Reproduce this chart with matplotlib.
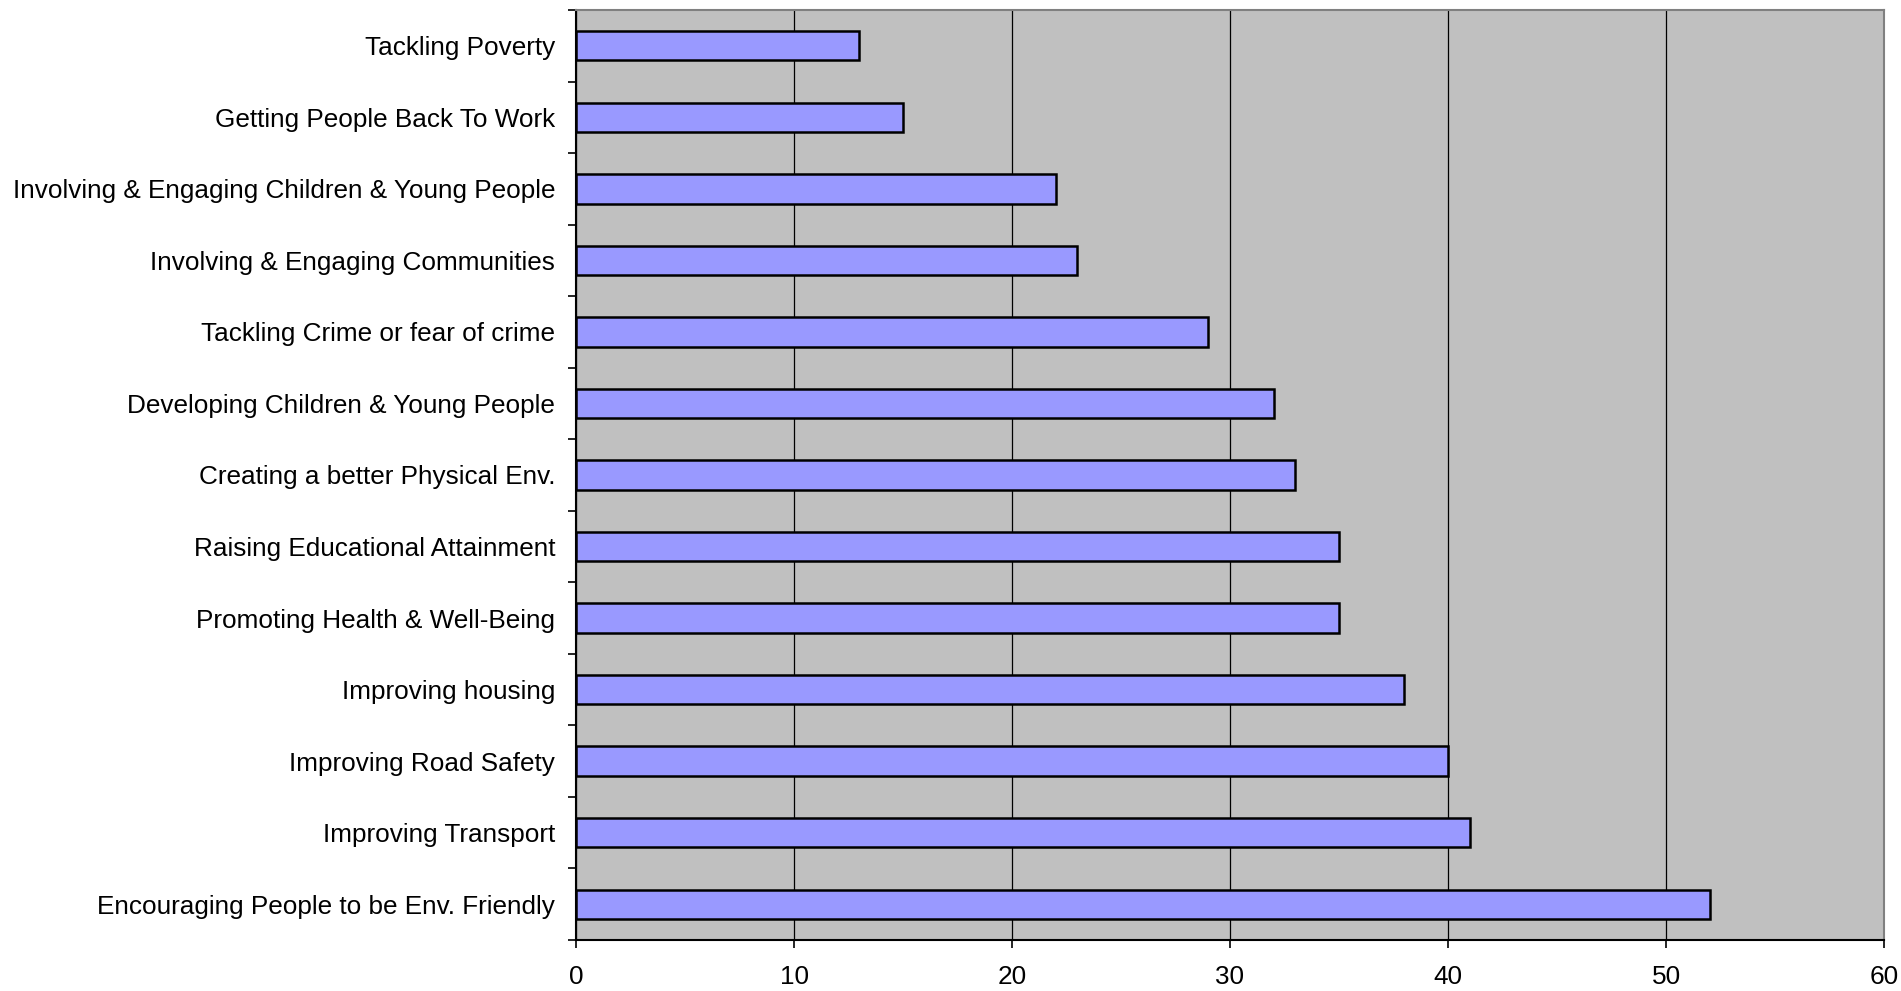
import matplotlib.pyplot as plt
import numpy as np

plt.rcParams['font.family'] = ['Liberation Sans', 'DejaVu Sans']

categories = ['Tackling Poverty', 'Getting People Back To Work',
              'Involving & Engaging Children & Young People',
              'Involving & Engaging Communities',
              'Tackling Crime or fear of crime',
              'Developing Children & Young People',
              'Creating a better Physical Env.',
              'Raising Educational Attainment',
              'Promoting Health & Well-Being',
              'Improving housing', 'Improving Road Safety',
              'Improving Transport',
              'Encouraging People to be Env. Friendly']
values = [13, 15, 22, 23, 29, 32, 33, 35, 35, 38, 40, 41, 52]
x_ticks = [0, 10, 20, 30, 40, 50, 60]

fig = plt.figure(figsize=(19.01, 9.91), dpi=100)
ax = fig.add_axes([576 / 1901, 51 / 991, (1884 - 576) / 1901, (940 - 10) / 991])
ax.set_facecolor('#c0c0c0')

pos = np.arange(len(categories))
ax.barh(pos, values, height=0.41, color='#9999ff', edgecolor='black',
        linewidth=1.8, zorder=3)

ax.set_xlim(0, 60)
ax.set_ylim(len(categories) - 0.5, -0.5)
ax.set_xticks(x_ticks)
ax.xaxis.grid(True, color='black', linewidth=0.9, zorder=1)

# labels at bar centres, tick marks at category boundaries
ax.set_yticks(np.arange(-0.5, len(categories) + 0.5, 1.0))
ax.set_yticklabels([])
ax.set_yticks(pos, minor=True)
ax.set_yticklabels(categories, minor=True, fontsize=18.8)
ax.tick_params(axis='y', which='minor', length=0, pad=15)
ax.tick_params(axis='y', which='major', length=6, width=1.2, direction='out')
ax.tick_params(axis='x', length=6, width=1.2, direction='out', pad=12, labelsize=18.8)

for side in ['left', 'bottom']:
    ax.spines[side].set_color('black')
    ax.spines[side].set_linewidth(1.5)
for side in ['top', 'right']:
    ax.spines[side].set_color('#808080')
    ax.spines[side].set_linewidth(1.5)

plt.savefig('out.png', dpi=100)
